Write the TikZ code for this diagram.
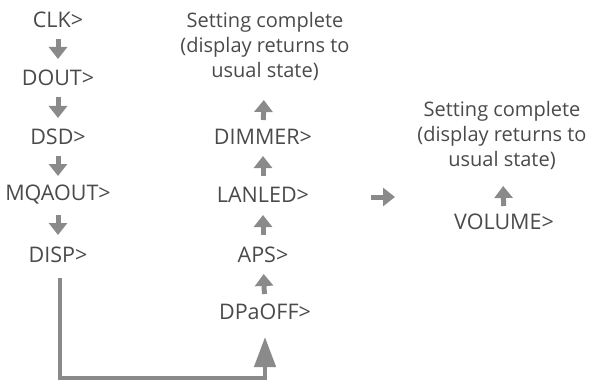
\documentclass[tikz,border=0pt]{standalone}
\usepackage{fontspec}
\setmainfont{Open Sans}
\usetikzlibrary{arrows.meta}
\definecolor{txt}{HTML}{4A4A4A}
\definecolor{arr}{HTML}{8A8A8A}
\begin{document}
\begin{tikzpicture}[x=1pt,y=-1pt,
  lbl/.style={font=\fontsize{21.5}{25}\selectfont, text=txt, inner sep=0pt, align=center},
  msg/.style={font=\fontsize{20}{25}\selectfont, text=txt, inner sep=0pt, align=center},
  small/.style={draw=arr, line width=5pt, -{Triangle[width=18pt,length=12pt]}},
  big/.style={draw=arr, line width=4.5pt, -{Triangle[width=21pt,length=30pt]}}]
\useasboundingbox (0,0) rectangle (593,382);
% column 1
\node[lbl] (clk) at (58,20) {CLK>};
\node[lbl] (dout) at (58,78) {DOUT>};
\node[lbl] (dsd) at (58,137) {DSD>};
\node[lbl] (mqa) at (58,195) {MQAOUT>};
\node[lbl] (disp) at (58,255) {DISP>};
% column 2
\node[msg] (set1) at (265,46) {Setting complete\\(display returns to\\usual state)};
\node[lbl] (dim) at (263,137) {DIMMER>};
\node[lbl] (lan) at (263,195) {LANLED>};
\node[lbl] (aps) at (263,255) {APS>};
\node[lbl] (dpa) at (265,312) {DPaOFF>};
% column 3
\node[msg] (set2) at (502,135) {Setting complete\\(display returns to\\usual state)};
\node[lbl] (vol) at (504,222) {VOLUME>};
% small arrows column 1
\draw[small, shorten <=19pt, shorten >=19pt] (clk.center) -- (dout.center);
\draw[small, shorten <=19pt, shorten >=19pt] (dout.center) -- (dsd.center);
\draw[small, shorten <=19pt, shorten >=19pt] (dsd.center) -- (mqa.center);
\draw[small, shorten <=20pt, shorten >=20pt] (mqa.center) -- (disp.center);
% column 2 up arrows
\draw[small, shorten <=18pt, shorten >=19pt] (dpa.center) -- (aps.center);
\draw[small, shorten <=20pt, shorten >=20pt] (aps.center) -- (lan.center);
\draw[small, shorten <=19pt, shorten >=19pt] (lan.center) -- (dim.center);
\draw[small, shorten <=17pt, shorten >=54pt] (dim.center) -- (set1.center);
% column 3
\draw[small, shorten <=16pt, shorten >=51pt] (vol.center) -- (set2.center);
% right arrow
\coordinate (ra1) at (371,197);
\coordinate (ra2) at (395,197);
\draw[small] (ra1) -- (ra2);
% big connector
\coordinate (b1) at (60,278);
\coordinate (b2) at (60,378);
\coordinate (b3) at (265,378);
\coordinate (b4) at (265,337);
\draw[big, line join=miter] (b1) -- (b2) -- (b3) -- (b4);
\end{tikzpicture}
\end{document}
